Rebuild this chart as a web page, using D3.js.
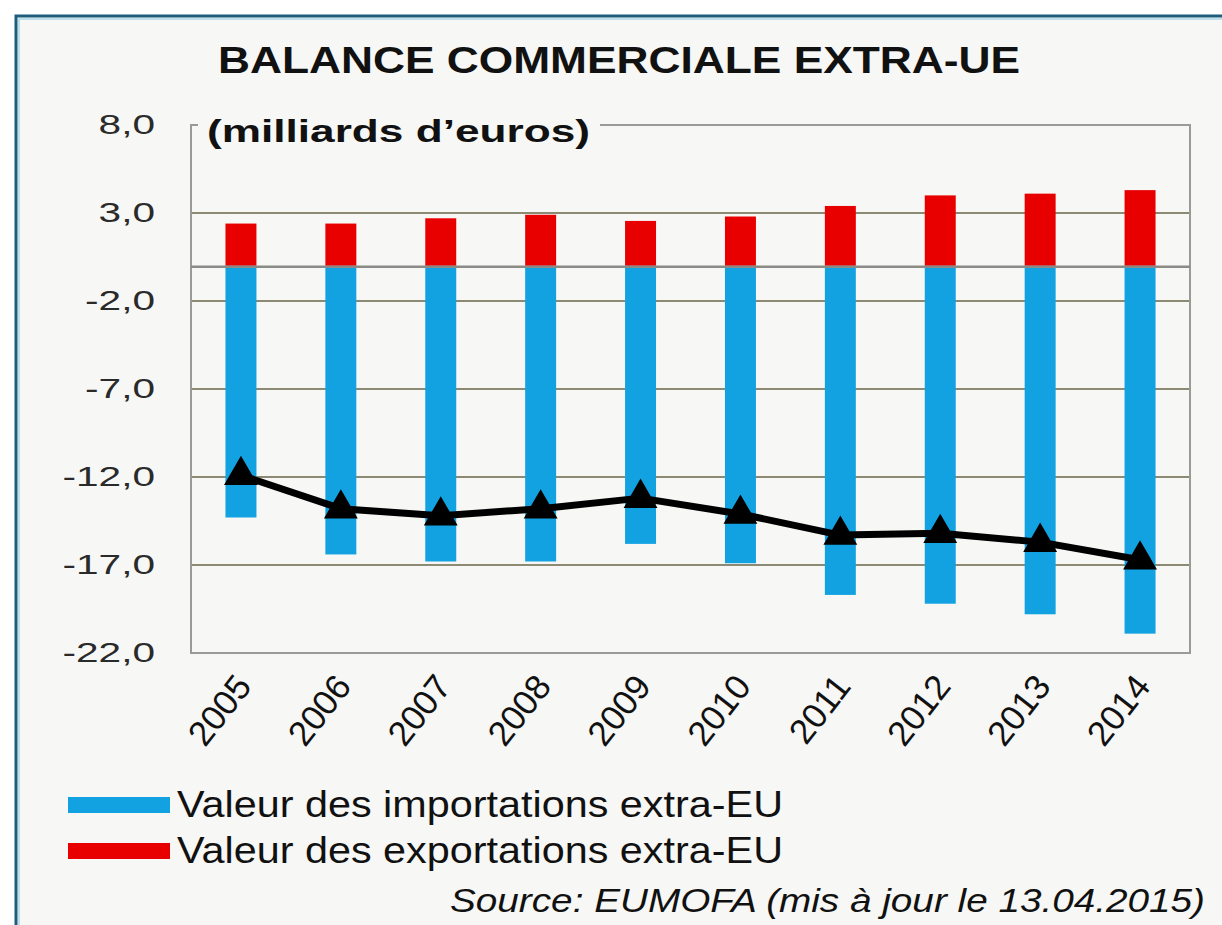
<!DOCTYPE html>
<html>
<head>
<meta charset="utf-8">
<script src="https://cdn.jsdelivr.net/npm/d3@7"></script>
<style>
body{margin:0;background:#fff}
svg{display:block;font-family:"Liberation Sans",Arial,sans-serif}
</style>
</head>
<body>
<svg width="1222" height="925"></svg>
<script>
// ===== DATA =====
const years = ["2005","2006","2007","2008","2009","2010","2011","2012","2013","2014"]
const imports = [-14.3,-16.4,-16.8,-16.8,-15.8,-16.9,-18.7,-19.2,-19.8,-20.9]
const exports = [2.4,2.4,2.7,2.9,2.55,2.8,3.4,4.0,4.1,4.3]
const balance = [-11.9,-13.8,-14.2,-13.8,-13.2,-14.1,-15.3,-15.2,-15.7,-16.7]
const yTicks = [8,3,-2,-7,-12,-17,-22]
const gridTicks = [3,-2,-7,-12,-17]

const title = "BALANCE COMMERCIALE EXTRA-UE"
const unitLabel = "(milliards d\u2019euros)"
const legendLabels = ["Valeur des importations extra-EU","Valeur des exportations extra-EU"]
const source = "Source: EUMOFA (mis \u00e0 jour le 13.04.2015)"

const blue = "#12a2e2"
const red = "#e80000"
const bg = "#f7f7f5"

const svg = d3.select("svg")

// ===== BACKGROUND + BORDER =====
svg.append("rect").attr("x",15).attr("y",15).attr("width",1207).attr("height",910).attr("fill",bg)
svg.append("path").attr("d","M16,925 V16 H1222").attr("fill","none").attr("stroke","#1e5d7c").attr("stroke-width",3)
svg.append("path").attr("d","M19,925 V19 H1222").attr("fill","none").attr("stroke","#a9d6ea").attr("stroke-width",1.5)

// ===== SCALES =====
const pLeft = 191, pRight = 1190, pTop = 125, pBottom = 653

const x = d3.scaleBand()
.domain(years)
.range([pLeft,pRight])
.paddingInner(0.69)
.paddingOuter(0.345)

const y = d3.scaleLinear()
.domain([-22,8])
.range([pBottom,pTop])

const loc = d3.formatLocale({decimal:",",thousands:" ",grouping:[3],currency:["","€"],minus:"-"})
const fmt = loc.format(".1f")

// GRID
svg.append("g")
.selectAll("line")
.data(gridTicks)
.enter()
.append("line")
.attr("x1",pLeft).attr("x2",pRight)
.attr("y1",d=>y(d)).attr("y2",d=>y(d))
.attr("stroke","#8d8a74")
.attr("stroke-width",2)

// FRAME
svg.append("rect")
.attr("x",pLeft).attr("y",pTop)
.attr("width",pRight-pLeft).attr("height",pBottom-pTop)
.attr("fill","none")
.attr("stroke","#9a9a96")
.attr("stroke-width",2)

// Y AXIS
const yAxis = svg.append("g")
.attr("transform",`translate(${pLeft},0)`)
.call(d3.axisLeft(y).tickValues(yTicks).tickSize(0).tickFormat(fmt))
yAxis.select(".domain").remove()
yAxis.selectAll("text")
.attr("x",-36/1.45)
.attr("transform","scale(1.45,1)")
.attr("font-size",28)
.attr("font-family","Liberation Sans, Arial, sans-serif")
.attr("fill","#2a2a2a")

// BARS
svg.append("g")
.selectAll("rect")
.data(years)
.enter()
.append("rect")
.attr("x",d=>x(d))
.attr("width",x.bandwidth())
.attr("y",y(0))
.attr("height",(d,i)=>y(imports[i])-y(0))
.attr("fill",blue)

svg.append("g")
.selectAll("rect")
.data(years)
.enter()
.append("rect")
.attr("x",d=>x(d))
.attr("width",x.bandwidth())
.attr("y",(d,i)=>y(exports[i]))
.attr("height",(d,i)=>y(0)-y(exports[i]))
.attr("fill",red)

// ZERO LINE
svg.append("line")
.attr("x1",pLeft).attr("x2",pRight)
.attr("y1",y(0)+1).attr("y2",y(0)+1)
.attr("stroke","#8a8a86")
.attr("stroke-width",2.5)

// X AXIS
const xAxis = svg.append("g")
.attr("transform",`translate(0,${pBottom})`)
.call(d3.axisBottom(x).tickSize(0))
xAxis.select(".domain").remove()
xAxis.selectAll("text")
.attr("font-size",35)
.attr("font-family","Liberation Sans, Arial, sans-serif")
.attr("fill","#111")
.attr("text-anchor","end")
.attr("x",0).attr("y",0)
.attr("dy",0)
.attr("transform","translate(12,34) rotate(-52)")

// BALANCE LINE
const line = d3.line()
.x((d,i)=>x(years[i])+x.bandwidth()/2)
.y(d=>y(d))

svg.append("path")
.datum(balance)
.attr("fill","none")
.attr("stroke","#000")
.attr("stroke-width",7)
.attr("stroke-linejoin","round")
.attr("d",line)

svg.append("g")
.selectAll("path")
.data(balance)
.enter()
.append("path")
.attr("d",d3.symbol(d3.symbolTriangle).size(400))
.attr("transform",(d,i)=>`translate(${x(years[i])+x.bandwidth()/2},${y(d)})`)
.attr("fill","#000")
.attr("stroke","#000")
.attr("stroke-width",2)

// TITLE
svg.append("text")
.attr("x",218).attr("y",73)
.attr("font-size",37)
.attr("font-weight","bold")
.attr("fill","#111")
.attr("textLength",802)
.attr("lengthAdjust","spacingAndGlyphs")
.text(title)

// UNIT LABEL (sits on the frame)
svg.append("rect")
.attr("x",198).attr("y",110).attr("width",402).attr("height",40)
.attr("fill",bg)
svg.append("text")
.attr("x",207).attr("y",142)
.attr("font-size",32)
.attr("font-weight","bold")
.attr("fill","#111")
.attr("textLength",383)
.attr("lengthAdjust","spacingAndGlyphs")
.text(unitLabel)

// LEGEND
const legend = svg.append("g")
const colors = [blue,red]
legend.selectAll("rect")
.data(legendLabels)
.enter()
.append("rect")
.attr("x",68)
.attr("y",(d,i)=>797+i*46)
.attr("width",102)
.attr("height",16)
.attr("fill",(d,i)=>colors[i])

legend.selectAll("text")
.data(legendLabels)
.enter()
.append("text")
.attr("x",177)
.attr("y",(d,i)=>817+i*46)
.attr("font-size",37)
.attr("font-family","Liberation Sans Narrow, Arial Narrow, Liberation Sans, sans-serif")
.attr("fill","#111")
.attr("textLength",606)
.attr("lengthAdjust","spacingAndGlyphs")
.text(d=>d)

// SOURCE
svg.append("text")
.attr("x",450).attr("y",912)
.attr("font-size",34)
.attr("font-style","italic")
.attr("font-family","Liberation Sans Narrow, Arial Narrow, Liberation Sans, sans-serif")
.attr("fill","#111")
.attr("textLength",755)
.attr("lengthAdjust","spacingAndGlyphs")
.text(source)
</script>
</body>
</html>
